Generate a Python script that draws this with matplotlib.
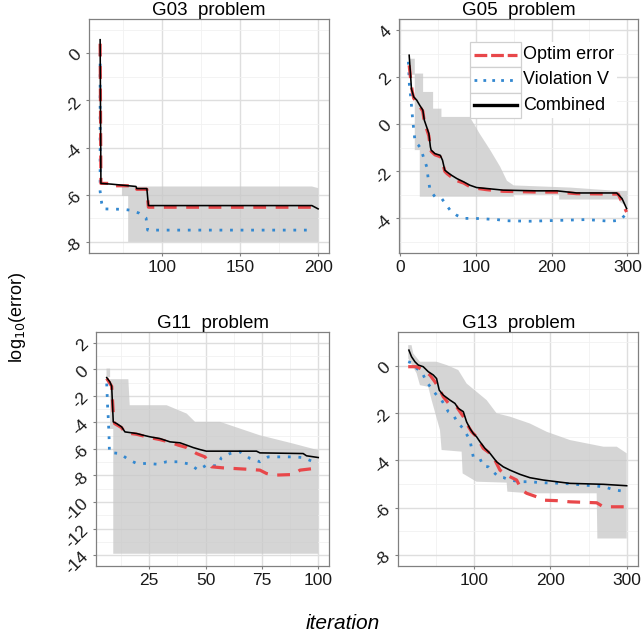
import matplotlib
matplotlib.use("Agg")
import matplotlib.pyplot as plt
from matplotlib.patches import Rectangle
from matplotlib.lines import Line2D
from matplotlib.ticker import MultipleLocator
import numpy as np

plt.rcParams["font.family"] = ["Liberation Sans", "DejaVu Sans"]
plt.rcParams["axes.unicode_minus"] = False

RED = "#E8474A"
BLUE = "#3388D0"
BLACK = "#000000"
RIBBON = "#C8C8C8"

# ---- G03 ----
g03_comb_x = [60, 60.5, 67, 83, 83.5, 90, 91, 196, 200]
g03_comb_y = [0.57, -5.52, -5.55, -5.65, -5.74, -5.74, -6.46, -6.46, -6.6]
g03_optim_x = [60, 60.5, 66, 66.5, 83, 83.5, 90, 91, 200]
g03_optim_y = [0.4, -5.52, -5.52, -5.62, -5.62, -5.77, -5.77, -6.53, -6.53]
g03_viol_x = [60, 60, 61, 62, 75, 80, 85, 89.5, 90.5, 196]
g03_viol_y = [0.0, -5.86, -6.36, -6.6, -6.62, -6.66, -6.78, -6.99, -7.5, -7.5]
g03_hi_x = [74, 196, 200]
g03_hi_y = [-5.65, -5.65, -5.72]
g03_lo_x = [74, 78, 78, 200]
g03_lo_y = [-6.05, -6.05, -8.0, -8.0]

# ---- G05 ----
g05_comb_x = [12, 14, 15, 18, 22, 26, 30, 32, 35, 38, 40, 41, 46, 53, 56, 59, 62, 68, 75,
              84, 92, 101, 114, 136, 180, 207, 233, 286, 293, 299]
g05_comb_y = [2.93, 2.0, 1.5, 1.16, 1.02, 0.8, 0.6, 0.17, -0.11, -0.4, -0.96, -1.1, -1.25,
              -1.32, -1.53, -1.95, -2.03, -2.17, -2.31, -2.45, -2.59, -2.69, -2.73, -2.8,
              -2.83, -2.83, -2.92, -2.92, -3.16, -3.58]
g05_optim_x = [12, 14, 16, 18, 22, 26, 30, 32, 35, 38, 40, 41, 46, 53, 56, 59, 62, 68, 72,
               75, 84, 92, 101, 114, 136, 180, 207, 233, 288, 294, 299]
g05_optim_y = [2.5, 1.9, 1.4, 1.1, 0.95, 0.75, 0.55, 0.1, -0.2, -0.5, -1.0, -1.15, -1.3,
               -1.38, -1.6, -2.0, -2.1, -2.25, -2.45, -2.4, -2.5, -2.65, -2.72, -2.78,
               -2.85, -2.88, -2.88, -2.95, -2.97, -3.4, -3.73]
g05_viol_x = [11, 12.3, 14, 15.4, 16.7, 19.8, 24.2, 27.3, 30.8, 35.2, 37.4, 39.6, 46.2, 55,
              66, 74.8, 83.6, 99, 127.6, 140.8, 171.6, 246.4, 277, 290, 299]
g05_viol_y = [2.65, 1.66, 1.16, 0.67, 0.17, -0.75, -0.89, -1.03, -1.39, -1.81, -2.38, -2.8,
              -3.09, -3.16, -3.65, -3.87, -4.0, -4.0, -4.05, -4.1, -4.12, -4.05, -4.12,
              -4.08, -3.8]
g05_hi_x = [13, 19.4, 19.4, 30.4, 30.4, 43.6, 43.6, 54.6, 54.6, 92, 105, 119, 132, 141, 150,
            224, 286, 300]
g05_hi_y = [2.78, 2.78, 2.15, 2.15, 1.37, 1.37, 0.66, 0.66, 0.31, 0.31, -0.4, -1.1, -1.8,
            -2.4, -2.6, -2.69, -2.83, -2.83]
g05_lo_x = [13, 19.4, 19.4, 26, 26, 150, 150, 210, 210, 290, 290, 300]
g05_lo_y = [2.1, 2.1, -1.1, -1.1, -3.08, -3.08, -3.0, -3.0, -3.2, -3.2, -3.3, -3.5]

# ---- G11 ----
g11_comb_x = [6.1, 7.5, 8.3, 9.0, 10.5, 12.7, 14.2, 19.4, 22.3, 25.3, 29.7, 34.2, 38.6, 41.6,
              44.5, 47.5, 50.3, 59.3, 72.6, 74.1, 93.3, 94.8, 100]
g11_comb_y = [-0.63, -0.95, -1.28, -3.96, -4.09, -4.34, -4.72, -4.84, -4.97, -5.09, -5.22,
              -5.47, -5.54, -5.72, -5.9, -6.05, -6.17, -6.17, -6.17, -6.3, -6.35, -6.52, -6.65]
g11_optim_x = [6.1, 8.3, 9.0, 9.6, 12.7, 14.2, 19.4, 25.3, 29.7, 34.2, 37.9, 41.6, 46, 49.7,
               52.7, 57.8, 68.2, 74.1, 77, 80, 88.9, 91.9, 97.8]
g11_optim_y = [-0.7, -1.28, -3.3, -4.09, -4.4, -4.78, -4.9, -5.15, -5.3, -5.5, -5.72, -5.9,
               -6.35, -6.6, -7.35, -7.43, -7.53, -7.6, -7.85, -7.98, -7.93, -7.6, -7.48]
g11_viol_x = [6.1, 6.3, 6.5, 6.8, 7.0, 7.2, 7.3, 12, 15.7, 19.4, 23.8, 28.3, 32.7, 37.9, 43,
              46.7, 50.4, 54.9, 57.1, 60.8, 65.2, 69.7, 74.1, 77.8, 83, 88.9, 93.3, 97.8, 99.5]
g11_viol_y = [-1.08, -1.96, -2.83, -3.71, -4.54, -5.39, -6.27, -6.35, -6.8, -7.1, -7.1, -7.15,
              -6.97, -6.97, -7.15, -7.6, -7.22, -7.28, -6.65, -6.35, -6.22, -6.72, -6.97,
              -6.6, -6.6, -6.6, -6.65, -6.97, -6.8]
g11_hi_x = [6, 7.6, 7.6, 15.7, 16.3, 32.7, 41.6, 45.3, 56.4, 74, 88.9, 100]
g11_hi_y = [0.05, 0.05, -0.75, -0.75, -2.71, -2.71, -3.34, -3.96, -3.96, -4.97, -5.6, -6.1]
g11_lo_x = [6, 7.6, 7.6, 9, 9, 100]
g11_lo_y = [-0.6, -0.6, -4.5, -4.5, -13.9, -13.9]

# ---- G13 ----
g13_comb_x = [14.2, 17.7, 22.1, 26.5, 33, 39.6, 46.2, 50.5, 54, 59.3, 68, 74.6, 79, 85.6,
              89.9, 94.3, 98.7, 103, 107.4, 114, 120.6, 129.3, 138, 146.8, 160, 173, 190.6,
              208, 225.6, 269.4, 300]
g13_comb_y = [0.66, 0.38, 0.17, 0.03, -0.04, -0.25, -0.39, -0.54, -1.03, -1.24, -1.45, -1.59,
              -1.8, -1.94, -2.37, -2.65, -2.86, -3.0, -3.21, -3.49, -3.7, -4.06, -4.27, -4.41,
              -4.59, -4.73, -4.83, -4.9, -4.97, -5.01, -5.07]
g13_optim_x = [13.3, 24.3, 33, 41.8, 48.4, 55, 59.3, 68, 76.8, 85.6, 89.9, 96.5, 103, 111.8,
               120.6, 127.1, 133.7, 142.5, 155.6, 162.3, 168.8, 182, 190.6, 208, 225.6, 260.6,
               269.4, 300]
g13_optim_y = [-0.04, -0.04, -0.18, -0.39, -0.68, -1.03, -1.31, -1.66, -1.73, -2.15, -2.44,
               -2.79, -3.0, -3.49, -3.7, -3.99, -4.41, -4.62, -4.83, -5.25, -5.39, -5.54,
               -5.68, -5.7, -5.75, -5.79, -5.96, -5.96]
g13_viol_x = [13.3, 19.9, 24.3, 30.9, 37.4, 44, 50.5, 57.1, 65.9, 72.4, 79, 85.6, 94.3, 98.7,
              107.4, 111.8, 118.4, 131.5, 138, 146.8, 160, 173, 186.2, 216.8, 243, 269.4,
              284.7, 300]
g13_viol_y = [0.17, 0.1, -0.11, -0.25, -0.68, -0.96, -1.24, -1.45, -1.94, -2.08, -2.44, -2.65,
              -3.14, -3.85, -3.92, -4.24, -4.27, -4.69, -4.72, -4.83, -4.9, -4.9, -4.94,
              -4.97, -5.04, -5.11, -5.25, -5.32]
g13_hi_x = [13.3, 17.7, 19.9, 28.7, 50.5, 63.7, 79, 89.9, 116.2, 129.3, 146.8, 173, 195,
            225.6, 269.4, 287, 300]
g13_hi_y = [0.87, 0.87, 0.52, 0.17, 0.17, 0.03, -0.18, -0.75, -1.45, -2.01, -2.15, -2.44,
            -2.79, -3.14, -3.42, -3.42, -3.7]
g13_lo_x = [13.3, 24.3, 28.7, 39.6, 44, 55, 57.1, 83.4, 84.7, 103, 142.5, 143.4, 173, 260.6,
            261.5, 300]
g13_lo_y = [0.31, -0.32, -0.82, -0.89, -1.45, -2.72, -3.56, -3.63, -4.55, -4.9, -4.94, -5.32,
            -5.39, -5.39, -7.3, -7.3]

panels = [
    dict(title="G03  problem", pos=[0.139, 0.6022, 0.3735, 0.368],
         xlim=(53, 207), ylim=(-8.47, 1.45), xmaj=50, xmin=25, ymaj=2,
         comb=(g03_comb_x, g03_comb_y), optim=(g03_optim_x, g03_optim_y),
         viol=(g03_viol_x, g03_viol_y),
         hi=(g03_hi_x, g03_hi_y), lo=(g03_lo_x, g03_lo_y)),
    dict(title="G05  problem", pos=[0.622, 0.6022, 0.3723, 0.368],
         xlim=(-1, 314.5), ylim=(-5.47, 4.47), xmaj=100, xmin=50, ymaj=2,
         comb=(g05_comb_x, g05_comb_y), optim=(g05_optim_x, g05_optim_y),
         viol=(g05_viol_x, g05_viol_y),
         hi=(g05_hi_x, g05_hi_y), lo=(g05_lo_x, g05_lo_y)),
    dict(title="G11  problem", pos=[0.1495, 0.1105, 0.3634, 0.368],
         xlim=(1.33, 104.9), ylim=(-14.8, 2.83), xmaj=25, xmin=12.5, ymaj=2,
         comb=(g11_comb_x, g11_comb_y), optim=(g11_optim_x, g11_optim_y),
         viol=(g11_viol_x, g11_viol_y),
         hi=(g11_hi_x, g11_hi_y), lo=(g11_lo_x, g11_lo_y)),
    dict(title="G13  problem", pos=[0.6204, 0.1105, 0.3738, 0.368],
         xlim=(0.3, 315.2), ylim=(-8.45, 1.44), xmaj=100, xmin=50, ymaj=2,
         comb=(g13_comb_x, g13_comb_y), optim=(g13_optim_x, g13_optim_y),
         viol=(g13_viol_x, g13_viol_y),
         hi=(g13_hi_x, g13_hi_y), lo=(g13_lo_x, g13_lo_y)),
]

fig = plt.figure(figsize=(6.42, 6.36), dpi=100)

axes = []
for p in panels:
    ax = fig.add_axes(p["pos"])
    ax.set_xlim(*p["xlim"])
    ax.set_ylim(*p["ylim"])
    ax.xaxis.set_major_locator(MultipleLocator(p["xmaj"]))
    ax.xaxis.set_minor_locator(MultipleLocator(p["xmin"]))
    ax.yaxis.set_major_locator(MultipleLocator(p["ymaj"]))
    ax.yaxis.set_minor_locator(MultipleLocator(p["ymaj"] / 2))
    ax.grid(True, which="major", color="#DEDEDE", lw=1.0)
    ax.grid(True, which="minor", color="#F1F1F1", lw=0.6)
    ax.set_axisbelow(True)
    for s in ax.spines.values():
        s.set_color("#808080")
        s.set_linewidth(0.9)
    ax.tick_params(which="major", length=2, width=0.8, color="#808080",
                   labelsize=12.5, labelcolor="#1a1a1a")
    ax.tick_params(which="minor", length=0)
    ax.tick_params(axis="x", pad=3)
    ax.tick_params(axis="y", pad=1.5, labelrotation=45)
    for lab in ax.get_yticklabels():
        lab.set_ha("right")
    ax.set_title(p["title"], fontsize=13.5, pad=2)

    hx, hy = p["hi"]
    lx, ly = p["lo"]
    ax.fill(np.r_[hx, lx[::-1]], np.r_[hy, ly[::-1]], color=RIBBON, alpha=0.75,
            lw=0, zorder=1.5)
    ax.plot(*p["viol"], color=BLUE, lw=2.0, dashes=(1, 2.8), zorder=3)
    ax.plot(*p["optim"], color=RED, lw=2.3, dashes=(4, 3), zorder=3.5)
    ax.plot(*p["comb"], color=BLACK, lw=1.15, zorder=4)
    axes.append(ax)

# legend in G05 panel, drawn as ggplot-style key boxes
leg_ax = axes[1]
labels = ["Optim error", "Violation V", "Combined"]
styles = [dict(color=RED, lw=2.3, dashes=(4, 1.2)),
          dict(color=BLUE, lw=2.0, dashes=(1, 2.2)),
          dict(color=BLACK, lw=2.4)]
k_left, k_right, t_right = 0.296, 0.509, 0.912
rows = [0.9004, 0.7936, 0.685, 0.5756]
leg_ax.add_patch(Rectangle((k_left, rows[-1]), t_right - k_left, rows[0] - rows[-1],
                           transform=leg_ax.transAxes, facecolor="white",
                           edgecolor="none", zorder=5))
for i, (lab, st) in enumerate(zip(labels, styles)):
    top, bot = rows[i], rows[i + 1]
    leg_ax.add_patch(Rectangle((k_left, bot), k_right - k_left, top - bot,
                               transform=leg_ax.transAxes, facecolor="white",
                               edgecolor="#D0D0D0", lw=0.9, zorder=6))
    yc = (top + bot) / 2
    leg_ax.add_line(Line2D([k_left + 0.017, k_right - 0.017], [yc, yc],
                           transform=leg_ax.transAxes, zorder=7, **st))
    leg_ax.text(0.519, yc, lab, transform=leg_ax.transAxes, fontsize=13,
                va="center", ha="left", zorder=7)

fig.text(0.028, 0.5016, "log$_{10}$(error)", rotation=90, fontsize=13,
         ha="center", va="center")
fig.text(0.5335, 0.019, "iteration", style="italic", fontsize=15,
         ha="center", va="center")

fig.savefig("out.png", dpi=100)
plt.close(fig)
